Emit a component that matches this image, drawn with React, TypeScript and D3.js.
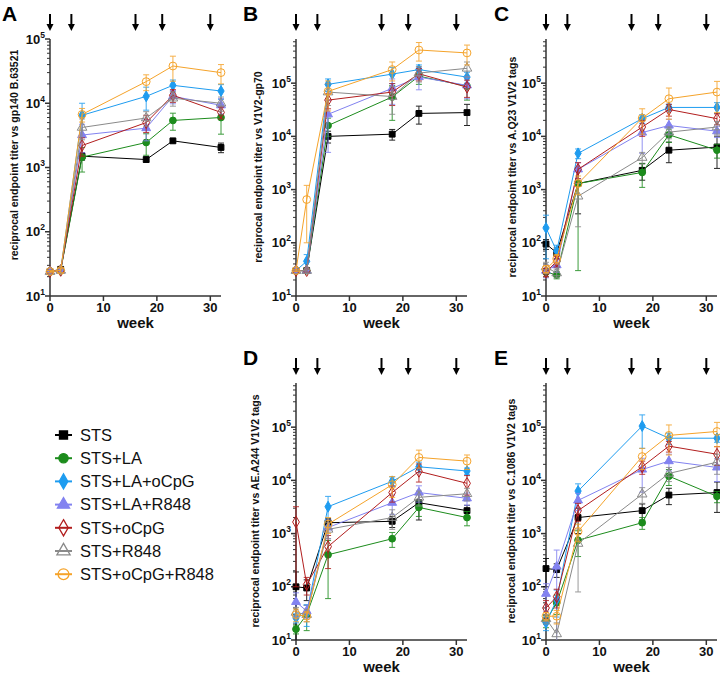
import React from "react";
import * as d3 from "d3";

const weeks = [0, 2, 6, 18, 23, 32];
const groups = ["STS", "STS+LA", "STS+LA+oCpG", "STS+LA+R848", "STS+oCpG", "STS+R848", "STS+oCpG+R848"];
const boostWeeks = [0, 4, 16, 21, 30];
const xTicks = [0, 10, 20, 30];

// titer values per group (rows follow `groups`), columns follow `weeks`
const titerA = [
  [24, 26, 1500, 1330, 2600, 2050],
  [24, 25, 1450, 2450, 5400, 6000],
  [24, 25, 6500, 12800, 19000, 15500],
  [24, 25, 3200, 4100, 12800, 9300],
  [24, 25, 2200, 5000, 13300, 7200],
  [24, 25, 4200, 5900, 12000, 10000],
  [24, 25, 6700, 21700, 38000, 30000],
];
const errA = [
  [1, 2, 200, 120, 150, 350],
  [1, 2, 600, 900, 1600, 2700],
  [1, 2, 3500, 5000, 4000, 4000],
  [1, 2, 1500, 1500, 3000, 2500],
  [1, 2, 700, 1500, 3000, 1500],
  [1, 2, 1500, 1500, 3000, 2500],
  [1, 2, 1600, 6000, 16000, 10000],
];
const titerB = [
  [30, 30, 10000, 11000, 27000, 28000],
  [30, 30, 16000, 55000, 135000, 88000],
  [30, 45, 95000, 148000, 180000, 130000],
  [30, 30, 26000, 80000, 130000, 91000],
  [30, 30, 48000, 68000, 150000, 84000],
  [30, 30, 68000, 56000, 155000, 190000],
  [30, 650, 70000, 180000, 420000, 370000],
];
const errB = [
  [1, 2, 2500, 2500, 10000, 12000],
  [1, 2, 6000, 35000, 40000, 40000],
  [1, 15, 25000, 50000, 40000, 30000],
  [1, 2, 21000, 40000, 55000, 40000],
  [1, 2, 15000, 30000, 40000, 30000],
  [1, 2, 30000, 30000, 50000, 60000],
  [1, 550, 40000, 70000, 160000, 150000],
];
const titerC = [
  [95, 65, 1300, 2300, 5500, 6300],
  [28, 25, 1300, 2100, 10700, 5500],
  [190, 70, 4800, 21500, 35000, 35000],
  [30, 38, 2400, 11800, 16000, 12500],
  [28, 45, 2400, 15000, 32000, 21500],
  [35, 27, 750, 4000, 12000, 15000],
  [32, 50, 1300, 22000, 51000, 68000],
];
const errC = [
  [20, 15, 950, 800, 2300, 3800],
  [5, 4, 1270, 1000, 3000, 1600],
  [140, 20, 1000, 4000, 5000, 8000],
  [8, 10, 800, 7000, 5000, 3000],
  [5, 10, 800, 5000, 8000, 5000],
  [8, 5, 550, 1000, 3000, 4000],
  [5, 10, 500, 11000, 30000, 40000],
];
const titerD = [
  [100, 95, 1600, 1700, 3800, 2700],
  [16, 30, 400, 800, 3100, 2000],
  [26, 32, 3200, 9600, 18000, 15000],
  [52, 35, 1300, 3800, 5900, 4600],
  [1650, 110, 570, 5900, 14800, 8800],
  [33, 30, 1200, 2000, 4800, 5600],
  [30, 28, 1500, 8300, 27000, 23000],
];
const errD = [
  [90, 40, 300, 400, 2000, 700],
  [3, 15, 340, 250, 1000, 600],
  [5, 14, 1800, 2000, 4000, 2000],
  [25, 10, 500, 1500, 2000, 1200],
  [1550, 40, 350, 2000, 5500, 3500],
  [8, 8, 400, 800, 1500, 1500],
  [8, 6, 500, 3500, 10000, 7000],
];
const titerE = [
  [220, 210, 2000, 2700, 5300, 5900],
  [23, 50, 750, 1600, 12000, 5000],
  [21, 57, 6300, 105000, 62000, 62000],
  [74, 240, 4200, 16000, 23000, 17500],
  [40, 65, 2700, 18000, 44000, 31000],
  [25, 13, 650, 5500, 13500, 22000],
  [28, 28, 1100, 28000, 70000, 83000],
];
const errE = [
  [120, 60, 1000, 900, 1800, 3400],
  [6, 20, 380, 400, 4000, 1200],
  [6, 30, 2300, 65000, 15000, 10000],
  [40, 250, 1500, 10000, 8000, 8000],
  [15, 25, 1000, 5000, 10000, 12000],
  [5, 8, 570, 1800, 4000, 9000],
  [5, 8, 400, 12000, 40000, 40000],
];

// styles
const colors = ["#000000", "#1c8c1c", "#1e9cf0", "#8282f0", "#b21e1e", "#8a8a8a", "#f5a32a"];
const shapes = [d3.symbolSquare, d3.symbolCircle, d3.symbolDiamond, d3.symbolTriangle, d3.symbolDiamond, d3.symbolTriangle, d3.symbolCircle];
const filled = [true, true, true, true, false, false, false];
const symSize = [34, 36, 34, 34, 40, 40, 48];

const FONT = "Arial, 'Liberation Sans', Helvetica, sans-serif";

type PanelProps = {
  letter: string;
  letterX: number;
  ylabel: string;
  values: number[][];
  errs: number[][];
  left: number;
  right: number;
  top: number;
  bottom: number;
  yMax: number;
  labelX: number;
  labelCy: number;
};

function Panel(p: PanelProps) {
  const x = d3.scaleLinear().domain([0, 32]).range([p.left, p.right]);
  const y = d3.scaleLog().domain([10, p.yMax]).range([p.bottom, p.top]);
  const line = d3
    .line<number>()
    .x((_, i) => x(weeks[i]))
    .y((v) => y(v));
  const majors: number[] = [];
  const minors: number[] = [];
  for (let k = 1; k <= 6; k++) {
    const base = Math.pow(10, k);
    if (base <= p.yMax * 1.0001) majors.push(base);
    for (let m = 2; m <= 9; m++) {
      const v = m * base / 10;
      if (v > 10 && v <= p.yMax) minors.push(v);
    }
  }
  const [lo] = y.domain();
  return (
    <g>
      <text x={p.letterX} y={p.top - 18} fontFamily={FONT} fontWeight="bold" fontSize={21}>
        {p.letter}
      </text>
      {boostWeeks.map((w, i) => (
        <g key={"ar" + i}>
          <line x1={x(w)} x2={x(w)} y1={p.top - 25} y2={p.top - 11} stroke="#000" strokeWidth={2} />
          <path
            d={`M${x(w) - 3.5},${p.top - 15} L${x(w) + 3.5},${p.top - 15} L${x(w)},${p.top - 8} Z`}
            fill="#000"
          />
        </g>
      ))}
      {/* axes */}
      <line x1={p.left} x2={p.left} y1={p.top} y2={p.bottom} stroke="#333" strokeWidth={1.5} />
      <line x1={p.left} x2={p.right} y1={p.bottom} y2={p.bottom} stroke="#333" strokeWidth={1.5} />
      {minors.map((v, i) => (
        <line key={"mn" + i} x1={p.left - 3} x2={p.left} y1={y(v)} y2={y(v)} stroke="#333" strokeWidth={1} />
      ))}
      {majors.map((v, i) => (
        <g key={"mj" + i}>
          <line x1={p.left - 5} x2={p.left} y1={y(v)} y2={y(v)} stroke="#333" strokeWidth={1.5} />
          <text
            x={p.left - 5}
            y={y(v) + 4.5}
            textAnchor="end"
            fontFamily={FONT}
            fontWeight="bold"
            fontSize={13}
            fill="#111"
          >
            10
            <tspan dy={-6} fontSize={8.5}>
              {Math.round(Math.log10(v))}
            </tspan>
          </text>
        </g>
      ))}
      {xTicks.map((t) => (
        <g key={"xt" + t}>
          <line x1={x(t)} x2={x(t)} y1={p.bottom} y2={p.bottom + 5} stroke="#333" strokeWidth={1.5} />
          <text
            x={x(t)}
            y={p.bottom + 16}
            textAnchor="middle"
            fontFamily={FONT}
            fontWeight="bold"
            fontSize={13}
            fill="#111"
          >
            {t}
          </text>
        </g>
      ))}
      <text
        x={(p.left + p.right) / 2}
        y={p.bottom + 32}
        textAnchor="middle"
        fontFamily={FONT}
        fontWeight="bold"
        fontSize={15}
        fill="#111"
      >
        week
      </text>
      <text
        transform={`translate(${p.labelX},${p.labelCy}) rotate(-90)`}
        textAnchor="middle"
        fontFamily={FONT}
        fontWeight="bold"
        fontSize={10.5}
        fill="#111"
      >
        {p.ylabel}
      </text>
      {/* series */}
      {p.values.map((vals, gi) => {
        const c = colors[gi];
        const sym = d3.symbol().type(shapes[gi]).size(symSize[gi])() as string;
        return (
          <g key={"s" + gi}>
            {vals.map((v, i) => {
              const e = p.errs[gi][i];
              const hi = v + e;
              const low = Math.max(v - e, lo);
              const cx = x(weeks[i]);
              return (
                <g key={"e" + i} stroke={c} strokeWidth={1} opacity={0.85}>
                  <line x1={cx} x2={cx} y1={y(hi)} y2={y(low)} />
                  <line x1={cx - 3} x2={cx + 3} y1={y(hi)} y2={y(hi)} />
                  {v - e > lo && <line x1={cx - 3} x2={cx + 3} y1={y(low)} y2={y(low)} />}
                </g>
              );
            })}
            <path d={line(vals) as string} fill="none" stroke={c} strokeWidth={1} />
            {vals.map((v, i) => (
              <path
                key={"m" + i}
                d={sym}
                transform={`translate(${x(weeks[i])},${y(v)})`}
                fill={filled[gi] ? c : "none"}
                stroke={c}
                strokeWidth={1}
              />
            ))}
          </g>
        );
      })}
    </g>
  );
}

function Legend() {
  return (
    <g>
      {groups.map((g, i) => {
        const yy = 435 + i * 23.2;
        const sym = d3.symbol().type(shapes[i]).size(symSize[i] * 1.9)() as string;
        return (
          <g key={g}>
            <line x1={55} x2={72} y1={yy} y2={yy} stroke={colors[i]} strokeWidth={2} />
            <path
              d={sym}
              transform={`translate(63.5,${yy})`}
              fill={filled[i] ? colors[i] : "none"}
              stroke={colors[i]}
              strokeWidth={1.3}
            />
            <text x={80} y={yy + 5.8} fontFamily={FONT} fontSize={16.5} fill="#111">
              {g}
            </text>
          </g>
        );
      })}
    </g>
  );
}

export default function App() {
  const top1 = 39;
  const bot1 = 296;
  const top2 = 383;
  const bot2 = 640;
  const yMaxBig = Math.pow(10, 5.83);
  return (
    <svg width={720} height={677} style={{ position: "absolute", left: 0, top: 0, background: "#fff" }}>
      <rect x={0} y={0} width={720} height={677} fill="#fff" />
      <Panel
        letter="A"
        letterX={2}
        ylabel="reciprocal endpoint titer vs gp140 B.63521"
        values={titerA}
        errs={errA}
        left={50}
        right={221}
        top={top1}
        bottom={bot1}
        yMax={1e5}
        labelX={18}
        labelCy={155}
      />
      <Panel
        letter="B"
        letterX={243}
        ylabel="reciprocal endpoint titer vs V1V2-gp70"
        values={titerB}
        errs={errB}
        left={296}
        right={467}
        top={top1}
        bottom={bot1}
        yMax={yMaxBig}
        labelX={262}
        labelCy={167}
      />
      <Panel
        letter="C"
        letterX={494}
        ylabel="reciprocal endpoint titer vs A.Q23 V1V2 tags"
        values={titerC}
        errs={errC}
        left={546}
        right={717}
        top={top1}
        bottom={bot1}
        yMax={yMaxBig}
        labelX={516}
        labelCy={167}
      />
      <Panel
        letter="D"
        letterX={243}
        ylabel="reciprocal endpoint titer vs AE.A244 V1V2 tags"
        values={titerD}
        errs={errD}
        left={296}
        right={467}
        top={top2}
        bottom={bot2}
        yMax={yMaxBig}
        labelX={259}
        labelCy={511}
      />
      <Panel
        letter="E"
        letterX={494}
        ylabel="reciprocal endpoint titer vs C.1086 V1V2 tags"
        values={titerE}
        errs={errE}
        left={546}
        right={717}
        top={top2}
        bottom={bot2}
        yMax={yMaxBig}
        labelX={515}
        labelCy={511}
      />
      <Legend />
    </svg>
  );
}
